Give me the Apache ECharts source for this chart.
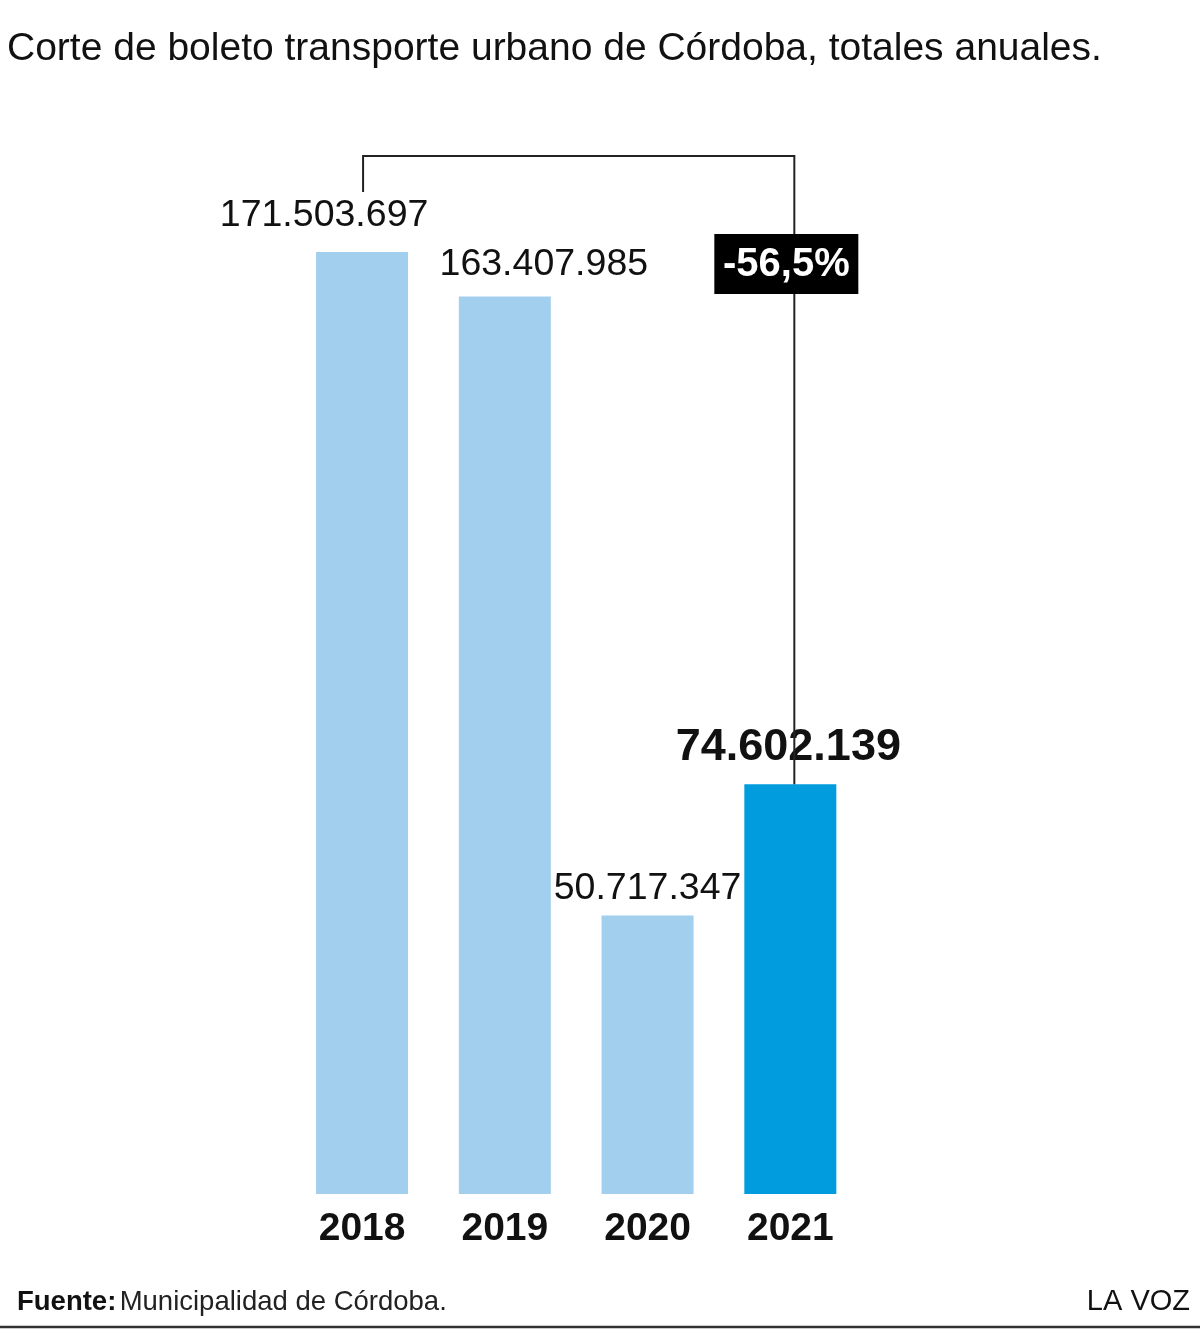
<!DOCTYPE html>
<html>
<head>
<meta charset="utf-8">
<style>html,body{margin:0;padding:0;background:#fff}#c{width:1200px;height:1334px}</style>
<script src="https://cdn.jsdelivr.net/npm/echarts@6/dist/echarts.min.js"></script>
</head>
<body>
<div id="c"></div>
<script>
const years = ['2018', '2019', '2020', '2021'];
const values = [171503697, 163407985, 50717347, 74602139];
const valueLabels = ['171.503.697', '163.407.985', '50.717.347', '74.602.139'];
const changeLabel = '-56,5%';
const titleText = 'Corte de boleto transporte urbano de Córdoba, totales anuales.';
const sourceBold = 'Fuente:';
const sourceText = 'Municipalidad de Córdoba.';
const brand = 'LA VOZ';

const FONT = "'Liberation Sans', Arial, sans-serif";
const LIGHT = '#A3CFEF';
const DARK = '#009CDD';
const labelOffsets = [-38, 39, 0, -2];
const labelDistances = [17, 13, 8, 14];

const chart = echarts.init(document.getElementById('c'), null, {renderer: 'canvas'});

const data = values.map((v, i) => {
  const last = i === values.length - 1;
  return {
    value: v,
    itemStyle: {color: last ? DARK : LIGHT},
    label: {
      show: true,
      position: 'top',
      distance: labelDistances[i],
      offset: [labelOffsets[i], 0],
      formatter: valueLabels[i],
      fontFamily: FONT,
      fontSize: last ? 45 : 37.5,
      fontWeight: last ? 'bold' : 'normal',
      color: '#111'
    }
  };
});

chart.setOption({
  animation: false,
  backgroundColor: '#fff',
  title: {
    text: titleText,
    left: 7,
    top: 30,
    padding: 0,
    textStyle: {fontFamily: FONT, fontSize: 39, fontWeight: 'normal', color: '#111'}
  },
  grid: {left: 290.7, right: 338.3, top: 205.34, bottom: 140},
  xAxis: {
    type: 'category',
    data: years,
    axisLine: {show: false},
    axisTick: {show: false},
    axisLabel: {fontFamily: FONT, fontSize: 39, fontWeight: 'bold', color: '#111', margin: 16}
  },
  yAxis: {
    type: 'value',
    min: 0,
    max: 180000000,
    show: false,
    splitLine: {show: false}
  },
  series: [{
    type: 'bar',
    data: data,
    barWidth: 92
  }]
});

function drawAnnotations() {
  const p0 = chart.convertToPixel({seriesIndex: 0}, [0, values[0]]);
  const p3 = chart.convertToPixel({seriesIndex: 0}, [3, values[3]]);
  const topY = 156;
  const leftX = p0[0] + 1;
  const rightX = p3[0] + 4;
  chart.setOption({
    graphic: [
      {
        type: 'polyline',
        shape: {points: [[leftX, 192], [leftX, topY], [rightX, topY], [rightX, p3[1]]]},
        style: {stroke: '#222', lineWidth: 2, fill: null},
        z: 10
      },
      {
        type: 'rect',
        shape: {x: rightX - 80, y: 234, width: 144, height: 60},
        style: {fill: '#000'},
        z: 11
      },
      {
        type: 'text',
        x: rightX - 8,
        y: 265,
        style: {text: changeLabel, fontFamily: FONT, fontSize: 40, fontWeight: 'bold', fill: '#fff', align: 'center', verticalAlign: 'middle'},
        z: 12
      },
      {
        type: 'text',
        x: 17,
        y: 1302,
        style: {
          text: '{b|' + sourceBold + '} {n|' + sourceText + '}',
          verticalAlign: 'middle',
          rich: {
            b: {fontFamily: FONT, fontSize: 27.5, fontWeight: 'bold', fill: '#111'},
            n: {fontFamily: FONT, fontSize: 27.5, fontWeight: 'normal', fill: '#222'}
          }
        },
        z: 12
      },
      {
        type: 'text',
        x: 1190,
        y: 1302,
        style: {text: brand, fontFamily: FONT, fontSize: 29, fill: '#111', align: 'right', verticalAlign: 'middle'},
        z: 12
      },
      {
        type: 'line',
        shape: {x1: 0, y1: 1327, x2: 1200, y2: 1327},
        style: {stroke: '#333', lineWidth: 2.5},
        z: 12
      }
    ]
  });
}
drawAnnotations();
</script>
</body>
</html>
